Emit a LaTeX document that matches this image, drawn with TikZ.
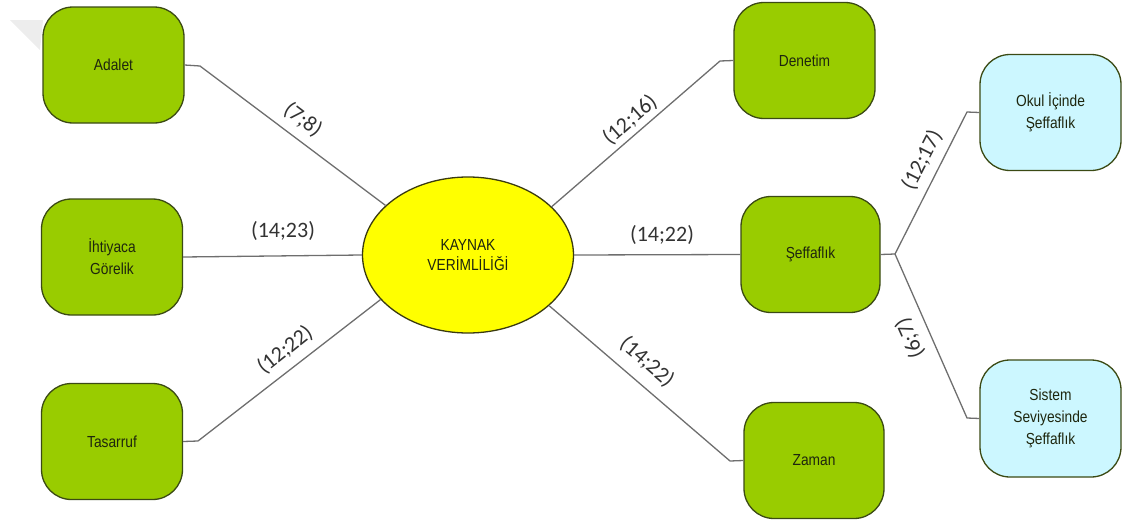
\documentclass[tikz,border=0pt]{standalone}
\usepackage{fontspec}
\setmainfont{Liberation Sans}
\newfontfamily\boxfont[FakeStretch=0.86]{Liberation Sans}
\newfontfamily\lblfont{Carlito}
\usetikzlibrary{shapes.geometric}
\definecolor{leaf}{HTML}{99CC00}
\definecolor{leafedge}{HTML}{3B4A14}
\definecolor{pale}{HTML}{CCF7FF}
\definecolor{sun}{HTML}{FFFF00}
\definecolor{sunedge}{HTML}{3A3A10}
\definecolor{wire}{HTML}{6E6E6E}
\definecolor{ink}{HTML}{1E260E}
\tikzset{
  topic/.style={draw=leafedge, line width=1.3pt, fill=leaf, rounded corners=30pt,
    minimum width=141pt, minimum height=116pt, inner sep=0pt, align=center,
    text=ink, font=\boxfont\fontsize{16}{22}\selectfont},
  subtopic/.style={topic, fill=pale},
  hub/.style={ellipse, draw=sunedge, line width=1.3pt, fill=sun,
    minimum width=211pt, minimum height=156pt, inner sep=0pt, align=center,
    text=ink, font=\boxfont\fontsize{16}{20}\selectfont},
  conn/.style={draw=wire, line width=1.3pt},
  weight/.style={font=\lblfont\fontsize{22}{22}\selectfont, text=black!80, inner sep=0pt}
}
\begin{document}
\begin{tikzpicture}[x=1pt,y=-1pt]
\useasboundingbox (0,0) rectangle (1122,522);
% faint corner fold
\fill[black!7] (10,20) -- (43,20) -- (40,50) -- cycle;

% centre
\node[hub] (kv) at (468,255) {KAYNAK\\VERİMLİLİĞİ};

% left branch
\node[topic] (adalet) at (113.5,65) {Adalet};
\node[topic] (ihtiyac) at (112,257) {İhtiyaca\\Görelik};
\node[topic] (tasarruf) at (112,441.5) {Tasarruf};

% right branch
\node[topic] (denetim) at (804.5,60.5) {Denetim};
\node[topic, minimum width=139pt] (seffaf) at (810.5,254.5) {Şeffaflık};
\node[topic, minimum width=140pt] (zaman) at (814,460.5) {Zaman};
\node[subtopic] (okul) at (1050.5,112.5) {Okul İçinde\\Şeffaflık};
\node[subtopic, minimum height=117pt] (sistem) at (1050.5,418.5) {Sistem\\Seviyesinde\\Şeffaflık};

% bend points
\coordinate (bA) at (200,66);
\coordinate (bT) at (198,441);
\coordinate (bD) at (720,61);
\coordinate (bZ) at (730,461);
\coordinate (bS) at (895,254);
\coordinate (bO) at (967,112);
\coordinate (bV) at (967,418);

% connectors
\draw[conn] (adalet.east) -- (bA) -- (kv.149.5);
\draw[conn] (ihtiyac.east) -- (kv.west);
\draw[conn] (tasarruf.east) -- (bT) -- (kv.207);
\draw[conn] (kv.30.5) -- (bD) -- (denetim.west);
\draw[conn] (kv.east) -- (seffaf.west);
\draw[conn] (kv.328.5) -- (bZ) -- (zaman.west);
\draw[conn] (seffaf.east) -- (bS) -- (bO) -- (okul.west);
\draw[conn] (bS) -- (bV) -- (sistem.west);

% weights
\node[weight, rotate=-37] (w1) at (303,120) {(7;8)};
\node[weight] (w2) at (283,231) {(14;23)};
\node[weight, rotate=38.5] (w3) at (285,350) {(12;22)};
\node[weight, rotate=41] (w4) at (630,120) {(12;16)};
\node[weight] (w5) at (662,235) {(14;22)};
\node[weight, rotate=-41] (w6) at (647,362) {(14;22)};
\node[weight, rotate=63] (w7) at (922,160) {(12;17)};
\node[weight, rotate=114] (w8) at (910,338) {(6;7)};
\end{tikzpicture}
\end{document}
